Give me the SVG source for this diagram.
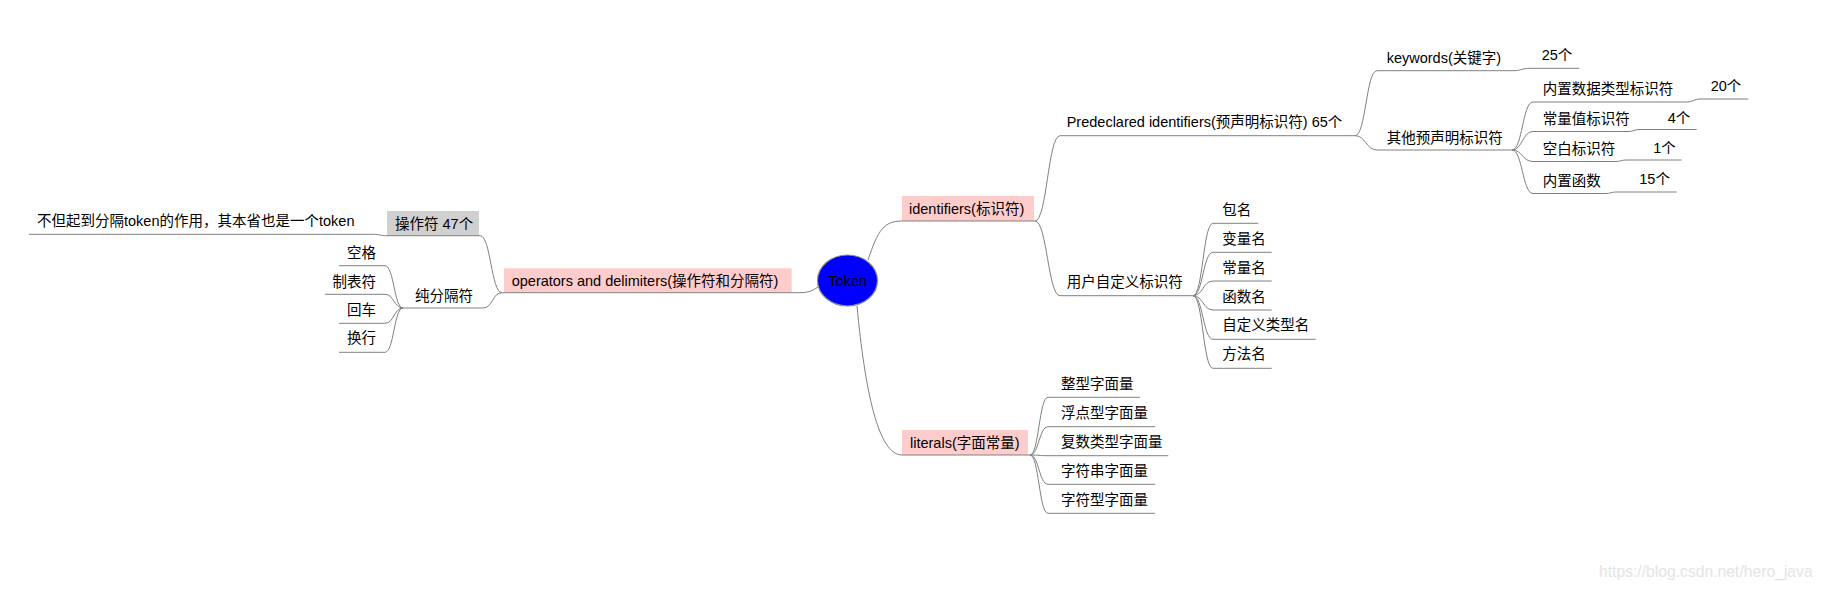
<svg xmlns="http://www.w3.org/2000/svg" width="1824" height="590" viewBox="0 0 1824 590">
<style>
text{font-family:"Liberation Sans","Noto Sans CJK SC",sans-serif;font-size:14.5px;fill:#000}
.u{fill:none;stroke:#808080;stroke-width:1}
.c{fill:none;stroke:#808080;stroke-width:1}
.pink{fill:#ffcccc}
.gray{fill:#d0d0d0}
.wm{fill:#e4e4e4;font-size:15.7px}
</style>
<rect width="1824" height="590" fill="#ffffff"/>
<g id="connectors">
<path class="c" d="M868,260 C878,230 884,221 902,221"/>
<path class="c" d="M818,287 C812,291 808,292.7 800,292.7"/>
<path class="c" d="M857,306 C865,390 878,455 902,455"/>
<path class="c" d="M1035,221 C1047,221 1048,135.7 1060,135.7"/>
<path class="c" d="M1035,221 C1047,221 1048,295.7 1060,295.7"/>
<path class="c" d="M1355,135.7 C1366,135.7 1366,70.7 1377,70.7"/>
<path class="c" d="M1355,135.7 C1366,135.7 1366,150 1377,150"/>
<path class="c" d="M1513,70.7 C1521,70.7 1522,68.3 1530,68.3"/>
<path class="c" d="M1512,150 C1522.5,150 1522.5,102 1533,102"/>
<path class="c" d="M1512,150 C1522.5,150 1522.5,131.5 1533,131.5"/>
<path class="c" d="M1512,150 C1522.5,150 1522.5,161.5 1533,161.5"/>
<path class="c" d="M1512,150 C1522.5,150 1522.5,193.5 1533,193.5"/>
<path class="c" d="M1687,102 C1693,102 1694,99 1700,99"/>
<path class="c" d="M1628,131.5 C1634,131.5 1634,129.5 1640,129.5"/>
<path class="c" d="M1615,161.5 C1621,161.5 1621,160 1627,160"/>
<path class="c" d="M1605,193.5 C1611,193.5 1611,192 1617,192"/>
<path class="c" d="M1193,295.7 C1203,295.7 1203,223.3 1213,223.3"/>
<path class="c" d="M1193,295.7 C1203,295.7 1203,252.3 1213,252.3"/>
<path class="c" d="M1193,295.7 C1203,295.7 1203,281 1213,281"/>
<path class="c" d="M1193,295.7 C1203,295.7 1203,310 1213,310"/>
<path class="c" d="M1193,295.7 C1203,295.7 1203,339.3 1213,339.3"/>
<path class="c" d="M1193,295.7 C1203,295.7 1203,368.3 1213,368.3"/>
<path class="c" d="M1030,455 C1039,455 1039,397.3 1048,397.3"/>
<path class="c" d="M1030,455 C1039,455 1039,426.7 1048,426.7"/>
<path class="c" d="M1030,455 C1039,455 1039,455.7 1048,455.7"/>
<path class="c" d="M1030,455 C1039,455 1039,484.3 1048,484.3"/>
<path class="c" d="M1030,455 C1039,455 1039,513.3 1048,513.3"/>
<path class="c" d="M502,292.7 C491,292.7 491,235.7 480,235.7"/>
<path class="c" d="M502,292.7 C492,292.7 493,308 483,308"/>
<path class="c" d="M387,235.7 C380,235.7 380,234.3 373,234.3"/>
<path class="c" d="M403,308 C394,308 394,265.7 385,265.7"/>
<path class="c" d="M403,308 C394,308 394,294.3 385,294.3"/>
<path class="c" d="M403,308 C394,308 394,323.3 385,323.3"/>
<path class="c" d="M403,308 C394,308 394,352.3 385,352.3"/>
</g>
<g id="token">
<ellipse cx="847.5" cy="280.5" rx="30" ry="25.5" fill="#0000ff" stroke="#909090" stroke-width="1.2"/>
<text x="847.5" y="285.5" text-anchor="middle">Token</text>
</g>
<g id="identifiers">
<rect class="pink" x="902" y="196" width="132" height="25"/>
<path class="u" d="M902,221 H1035"/>
<text x="909" y="213.5">identifiers(标识符)</text>
</g>
<g id="predeclared">
<path class="u" d="M1060,135.7 H1355"/>
<text x="1066.7" y="127">Predeclared identifiers(预声明标识符) 65个</text>
</g>
<g id="keywords">
<path class="u" d="M1377,70.7 H1513"/>
<text x="1386.7" y="62.5">keywords(关键字)</text>
</g>
<g id="kw-count">
<path class="u" d="M1530,68.3 H1579.3"/>
<text x="1541.7" y="60">25个</text>
</g>
<g id="other-predeclared">
<path class="u" d="M1377,150 H1512"/>
<text x="1386.7" y="142.5">其他预声明标识符</text>
</g>
<g id="builtin-types">
<path class="u" d="M1533,102 H1687"/>
<text x="1542.7" y="93.5">内置数据类型标识符</text>
</g>
<g id="builtin-types-count">
<path class="u" d="M1700,99 H1748.3"/>
<text x="1710.7" y="91">20个</text>
</g>
<g id="const-ident">
<path class="u" d="M1533,131.5 H1628"/>
<text x="1542.7" y="123.5">常量值标识符</text>
</g>
<g id="const-count">
<path class="u" d="M1640,129.5 H1696.7"/>
<text x="1667.7" y="122.5">4个</text>
</g>
<g id="blank-ident">
<path class="u" d="M1533,161.5 H1615"/>
<text x="1542.7" y="153.5">空白标识符</text>
</g>
<g id="blank-count">
<path class="u" d="M1627,160 H1681.7"/>
<text x="1653.3" y="152.5">1个</text>
</g>
<g id="builtin-func">
<path class="u" d="M1533,193.5 H1605"/>
<text x="1542.7" y="186">内置函数</text>
</g>
<g id="builtin-func-count">
<path class="u" d="M1617,192 H1676.7"/>
<text x="1639.3" y="183.5">15个</text>
</g>
<g id="user-defined">
<path class="u" d="M1060,295.7 H1193"/>
<text x="1066.7" y="287">用户自定义标识符</text>
</g>
<g id="pkg-name"><path class="u" d="M1213,223.3 H1258.3"/><text x="1222.3" y="215">包名</text></g>
<g id="var-name"><path class="u" d="M1213,252.3 H1271.7"/><text x="1222.3" y="243.5">变量名</text></g>
<g id="const-name"><path class="u" d="M1213,281 H1271.7"/><text x="1222.3" y="272.5">常量名</text></g>
<g id="func-name"><path class="u" d="M1213,310 H1271.7"/><text x="1222.3" y="302">函数名</text></g>
<g id="type-name"><path class="u" d="M1213,339.3 H1315.7"/><text x="1222.3" y="330">自定义类型名</text></g>
<g id="method-name"><path class="u" d="M1213,368.3 H1271.7"/><text x="1222.3" y="359">方法名</text></g>
<g id="literals">
<rect class="pink" x="902" y="430" width="126" height="25"/>
<path class="u" d="M902,455 H1030"/>
<text x="910" y="447.5">literals(字面常量)</text>
</g>
<g id="int-lit"><path class="u" d="M1048,397.3 H1140"/><text x="1061" y="389">整型字面量</text></g>
<g id="float-lit"><path class="u" d="M1048,426.7 H1155"/><text x="1061" y="418">浮点型字面量</text></g>
<g id="complex-lit"><path class="u" d="M1048,455.7 H1168.3"/><text x="1061" y="447">复数类型字面量</text></g>
<g id="string-lit"><path class="u" d="M1048,484.3 H1155"/><text x="1061" y="475.5">字符串字面量</text></g>
<g id="rune-lit"><path class="u" d="M1048,513.3 H1155"/><text x="1061" y="504.5">字符型字面量</text></g>
<g id="operators">
<rect class="pink" x="504" y="268.3" width="287.7" height="24.4"/>
<path class="u" d="M502,292.7 H800"/>
<text x="511.7" y="285.5">operators and delimiters(操作符和分隔符)</text>
</g>
<g id="operator-count">
<rect class="gray" x="387" y="211" width="92" height="24.7"/>
<path class="u" d="M387,235.7 H480"/>
<text x="395" y="228.5">操作符 47个</text>
</g>
<g id="operator-note">
<path class="u" d="M29,234.3 H373"/>
<text x="37" y="226">不但起到分隔token的作用，其本省也是一个token</text>
</g>
<g id="pure-delim">
<path class="u" d="M403,308 H483"/>
<text x="415" y="300.5">纯分隔符</text>
</g>
<g id="space"><path class="u" d="M339,265.7 H385"/><text x="376" y="257.5" text-anchor="end">空格</text></g>
<g id="tab"><path class="u" d="M325,294.3 H385"/><text x="376" y="286.5" text-anchor="end">制表符</text></g>
<g id="cr"><path class="u" d="M339,323.3 H385"/><text x="376" y="314.5" text-anchor="end">回车</text></g>
<g id="lf"><path class="u" d="M339,352.3 H385"/><text x="376" y="343" text-anchor="end">换行</text></g>
<text class="wm" x="1599" y="577">https://blog.csdn.net/hero_java</text>
</svg>
